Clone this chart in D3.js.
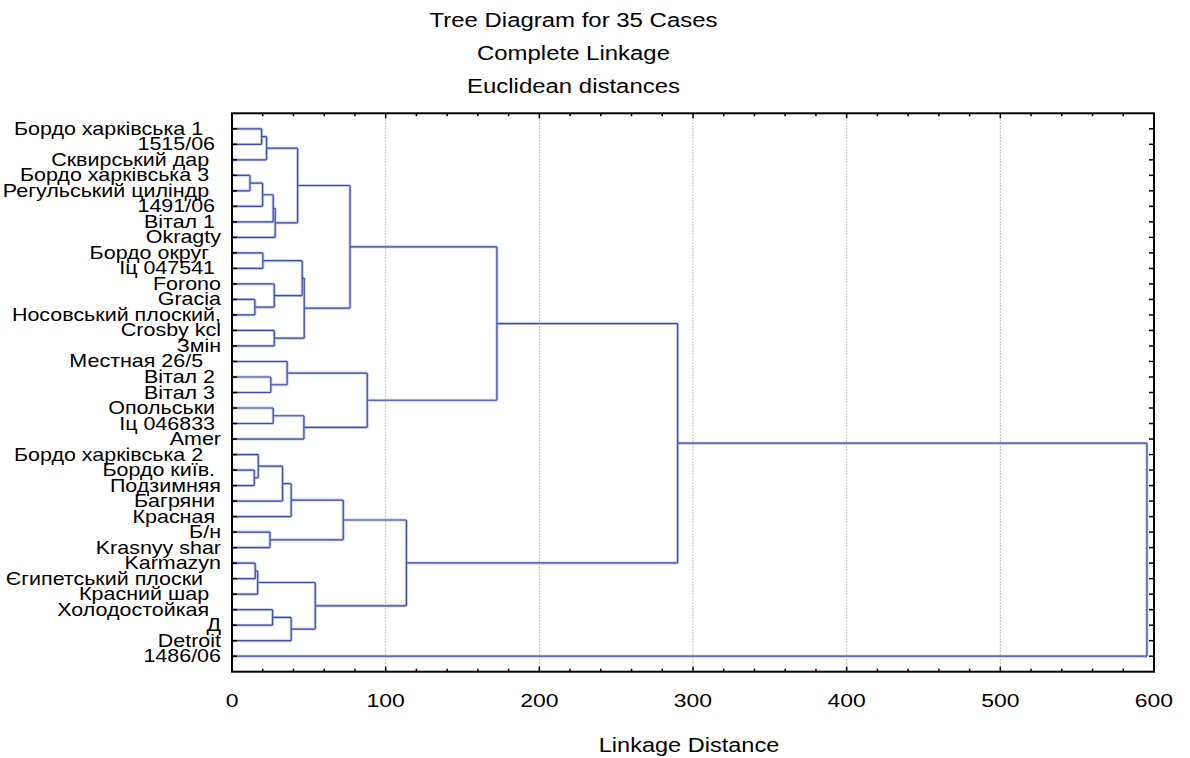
<!DOCTYPE html>
<html>
<head>
<meta charset="utf-8">
<script src="https://cdn.jsdelivr.net/npm/d3@7"></script>
<style>
  html, body { margin: 0; padding: 0; background: #fff; }
  svg { display: block; }
  text { font-family: "Liberation Sans", Arial, sans-serif; fill: #000; }
</style>
</head>
<body>
<svg id="chart" width="1190" height="758"></svg>
<script>
// ---------------- data ----------------
const titleLines = ["Tree Diagram for 35 Cases", "Complete Linkage", "Euclidean distances"];
const xAxisTitle = "Linkage Distance";
const xTickValues = [0, 100, 200, 300, 400, 500, 600];
const xMinorTicks = d3.range(0, 601, 20);

// leaves, top to bottom (trailing spaces as in the original case names)
const labels = [
  "Бордо харківська 1   ", "1515/06 ", "Сквирський дар  ", "Бордо харківська 3  ",
  "Регульський циліндр  ", "1491/06 ", "Вітал 1 ", "Okragty", "Бордо округ  ",
  "Іц 047541 ", "Forono", "Gracia", "Носовський плоский,", "Crosby kcl", "Змін",
  "Местная 26/5   ", "Вітал 2 ", "Вітал 3 ", "Опольськи ", "Іц 046833 ", "Amer",
  "Бордо харківська 2   ", "Бордо київ. ", "Подзимняя", "Багряни ", "Красная ",
  "Б/н", "Krasnyy shar", "Karmazyn", "Єгипетський плоски   ", "Красний шар  ",
  "Холодостойкая  ", "Д", "Detroit", "1486/06"
];

// linkage: [child A, child B, linkage distance]; new cluster ids start at 35
const linkage = [
  [11, 12, 14.9],  // 35
  [3, 4, 11.7],    // 36
  [22, 23, 14.5],  // 37
  [21, 37, 17.1],  // 38
  [28, 29, 15.1],  // 39
  [39, 30, 16.7],  // 40
  [0, 1, 19.3],    // 41
  [41, 2, 22.5],   // 42
  [36, 5, 19.9],   // 43
  [43, 6, 26.8],   // 44
  [44, 7, 28.1],   // 45
  [42, 45, 42.7],  // 46
  [8, 9, 20.1],    // 47
  [10, 35, 27.5],  // 48
  [47, 48, 45.7],  // 49
  [13, 14, 27.5],  // 50
  [49, 50, 47.0],  // 51
  [46, 51, 76.8],  // 52
  [16, 17, 25.3],  // 53
  [15, 53, 35.9],  // 54
  [18, 19, 26.8],  // 55
  [55, 20, 46.8],  // 56
  [54, 56, 88.0],  // 57
  [52, 57, 172.4], // 58
  [38, 24, 32.9],  // 59
  [59, 25, 38.5],  // 60
  [26, 27, 24.7],  // 61
  [60, 61, 72.4],  // 62
  [31, 32, 26.4],  // 63
  [63, 33, 38.5],  // 64
  [40, 64, 54.2],  // 65
  [62, 65, 113.5], // 66
  [58, 66, 290.0], // 67
  [67, 34, 595.4]  // 68
];

// ---------------- layout ----------------
const svg = d3.select("#chart");
const plot = { left: 232, right: 1154, top: 113.3, bottom: 671.7 };

const x = d3.scaleLinear().domain([0, 600]).range([plot.left, plot.right]);
const y = d3.scalePoint().domain(d3.range(labels.length)).range([plot.top, plot.bottom]).padding(1);

function place(sel, fx, fy, sx) {
  return sel.attr("x", 0).attr("y", 0)
    .attr("transform", (d, i) => `translate(${fx(d, i)},${fy(d, i)}) scale(${sx},1)`);
}

// title
place(svg.append("g").selectAll("text").data(titleLines).join("text"),
  () => 573.5, (d, i) => 26.5 + i * 33, 1.21)
  .attr("text-anchor", "middle").attr("font-size", "19.8px").text(d => d);

// grid
svg.append("g").selectAll("line").data(xTickValues.filter(v => v > 0 && v < 600)).join("line")
  .attr("x1", d => x(d)).attr("x2", d => x(d))
  .attr("y1", plot.top).attr("y2", plot.bottom)
  .attr("stroke", "#a8a8a8").attr("stroke-width", 1).attr("stroke-dasharray", "1.5,1.5");

// node positions
const nodeX = [], nodeY = [];
labels.forEach((l, i) => { nodeX[i] = 0; nodeY[i] = y(i); });
linkage.forEach((m, k) => {
  const id = labels.length + k;
  nodeX[id] = m[2];
  nodeY[id] = (nodeY[m[0]] + nodeY[m[1]]) / 2;
});

// dendrogram path segments
const segs = [];
linkage.forEach(m => {
  const h = m[2];
  [m[0], m[1]].forEach(c => segs.push([x(nodeX[c]), nodeY[c], x(h), nodeY[c]]));
  segs.push([x(h), nodeY[m[0]], x(h), nodeY[m[1]]]);
});
const path = d3.path();
segs.forEach(s => { path.moveTo(s[0], s[1]); path.lineTo(s[2], s[3]); });
const dstr = path.toString();
svg.append("path").attr("d", dstr).attr("fill", "none")
  .attr("stroke", "#c3c9e8").attr("stroke-width", 3);
svg.append("path").attr("d", dstr).attr("fill", "none")
  .attr("stroke", "#3b4ea8").attr("stroke-width", 1.2);

// leaf labels
place(svg.append("g").selectAll("text").data(labels).join("text"),
  () => 221, (d, i) => y(i) + 6, 1.18)
  .attr("text-anchor", "end").attr("font-size", "18.2px")
  .style("white-space", "pre").attr("xml:space", "preserve")
  .text(d => d);

// ticks
const tk = svg.append("g").attr("stroke", "#000").attr("stroke-width", 1.5);
xMinorTicks.forEach(v => {
  const len = v % 100 === 0 ? 5 : 3;
  tk.append("line").attr("x1", x(v)).attr("x2", x(v)).attr("y1", plot.bottom).attr("y2", plot.bottom - len);
  tk.append("line").attr("x1", x(v)).attr("x2", x(v)).attr("y1", plot.top).attr("y2", plot.top + len);
});
labels.forEach((l, i) => {
  tk.append("line").attr("x1", plot.left).attr("x2", plot.left + 5).attr("y1", y(i)).attr("y2", y(i));
  tk.append("line").attr("x1", plot.right).attr("x2", plot.right - 5).attr("y1", y(i)).attr("y2", y(i));
});

// frame
svg.append("rect").attr("x", plot.left).attr("y", plot.top)
  .attr("width", plot.right - plot.left).attr("height", plot.bottom - plot.top)
  .attr("fill", "none").attr("stroke", "#000").attr("stroke-width", 2);

// x tick labels
place(svg.append("g").selectAll("text").data(xTickValues).join("text"),
  d => x(d), () => 707, 1.22)
  .attr("text-anchor", "middle").attr("font-size", "18.8px").text(d => d);

// axis title
place(svg.append("g").selectAll("text").data([xAxisTitle]).join("text"),
  () => 689, () => 752, 1.22)
  .attr("text-anchor", "middle").attr("font-size", "19.3px").text(d => d);
</script>
</body>
</html>
